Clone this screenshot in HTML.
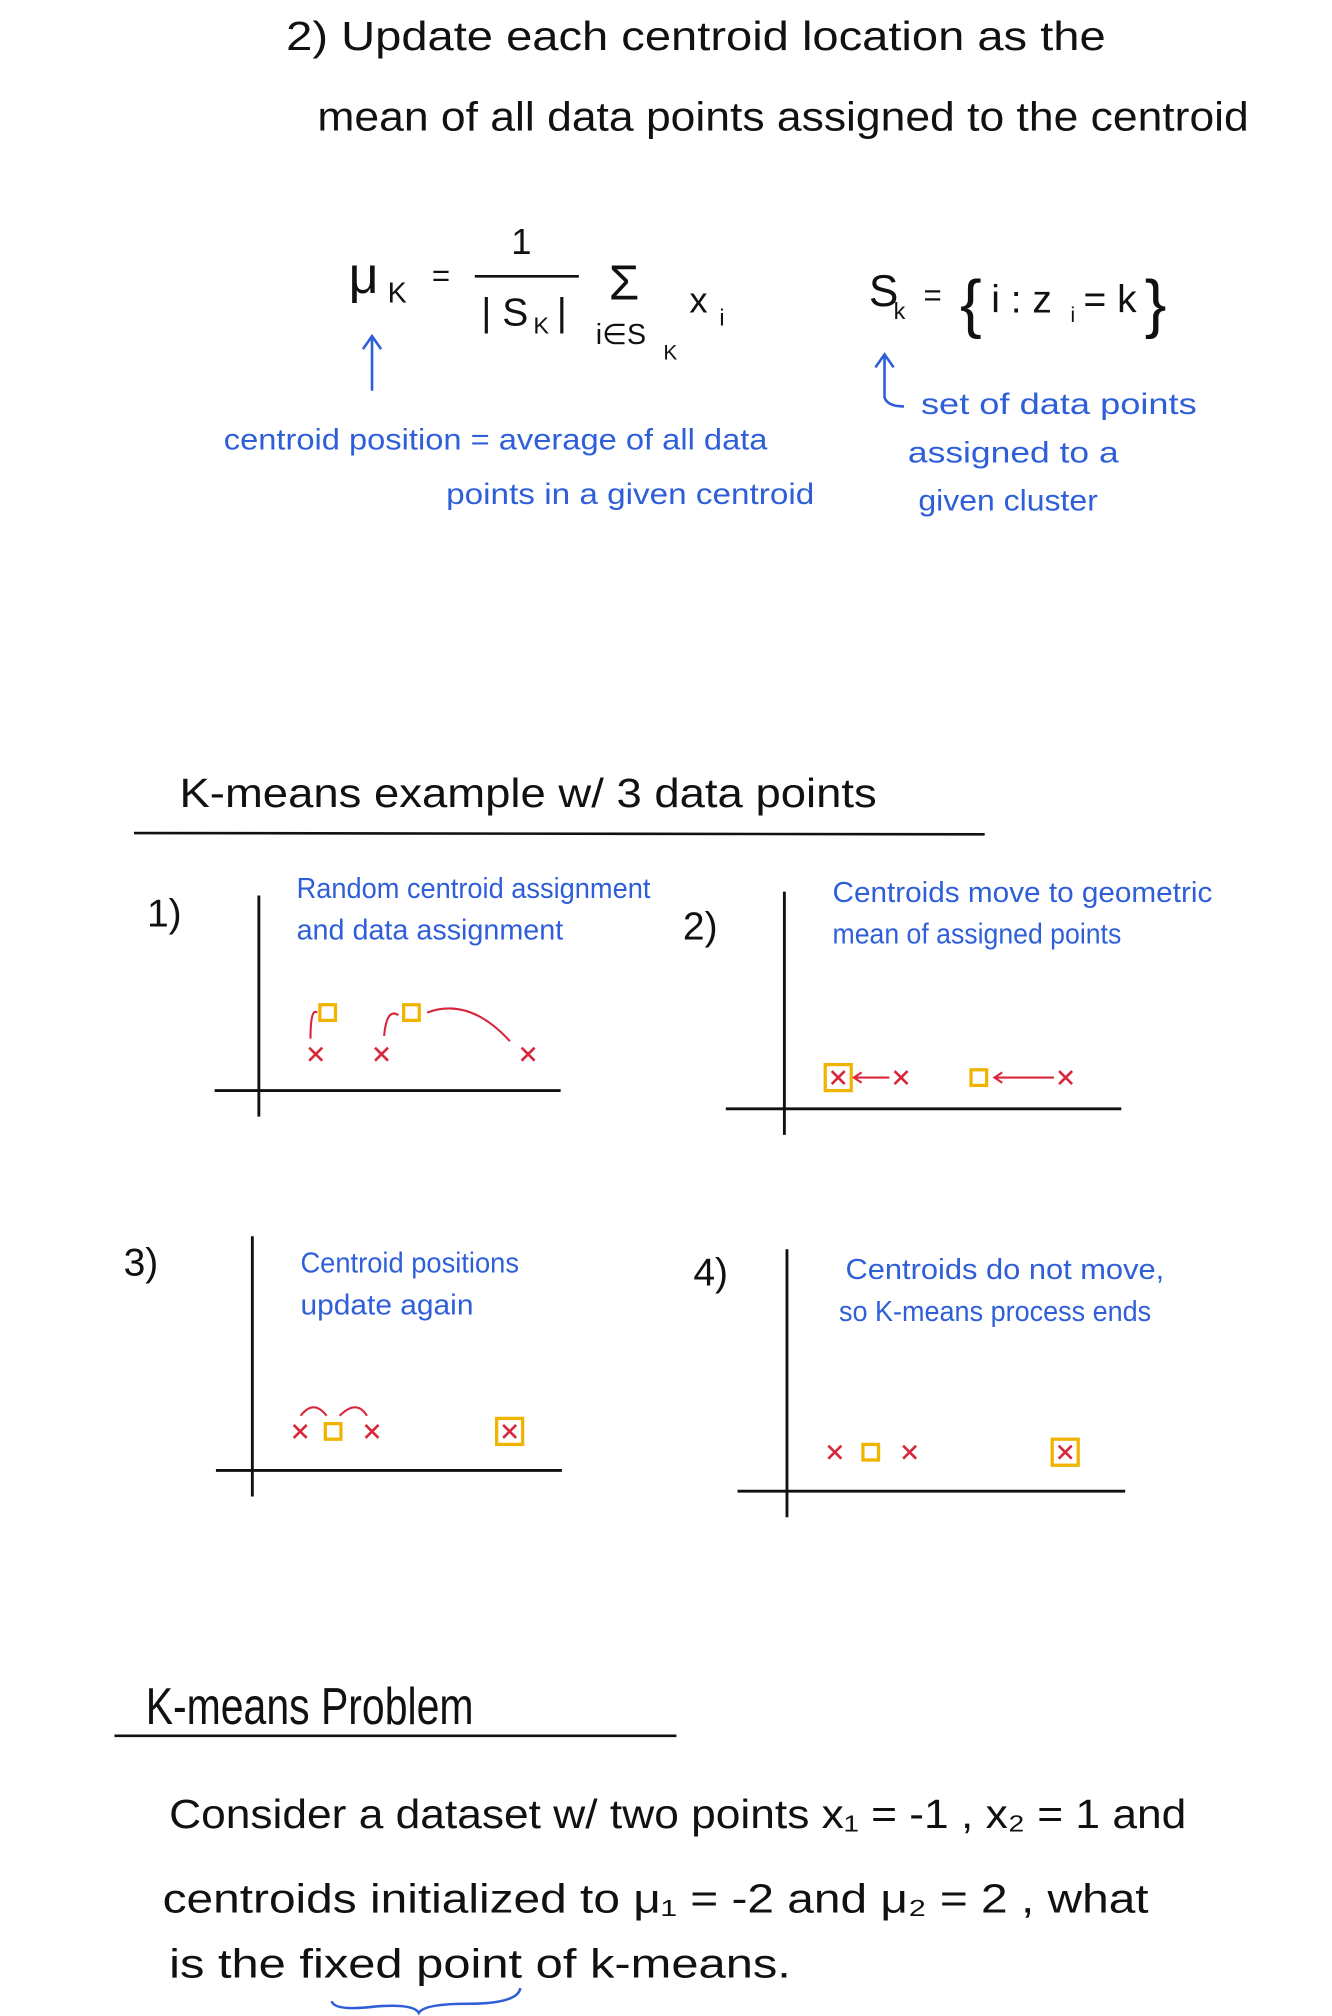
<!DOCTYPE html>
<html><head><meta charset="utf-8"><style>
html,body{margin:0;padding:0;background:#fff;}
svg{display:block;}
text{font-family:"Liberation Sans",sans-serif;}
.k{fill:#111;}
.b{fill:#2f5fd8;}
</style></head><body>
<svg id="page" width="1332" height="2016" viewBox="0 0 1024 1549" xmlns="http://www.w3.org/2000/svg">
<g>
<text class="k" x="220" y="38" font-size="31" textLength="630" lengthAdjust="spacingAndGlyphs">2) Update each centroid location as the</text>
<text class="k" x="244" y="100" font-size="31" textLength="716" lengthAdjust="spacingAndGlyphs">mean of all data points assigned to the centroid</text>
</g>
<g>
<text class="k" x="268" y="225" font-size="40">μ</text>
<text class="k" x="298" y="232" font-size="22">K</text>
<text class="k" x="332" y="220" font-size="24">=</text>
<text class="k" x="393" y="195" font-size="28">1</text>
<line x1="365" y1="212" x2="445" y2="212" stroke="#111" stroke-width="2"/>
<text class="k" x="370" y="250" font-size="30">| S</text>
<text class="k" x="410" y="256" font-size="18">K</text>
<text class="k" x="428" y="250" font-size="30">|</text>
<text class="k" x="468" y="230" font-size="38">Σ</text>
<text class="k" x="458" y="264" font-size="22">i∈S</text>
<text class="k" x="510" y="276" font-size="16">K</text>
<text class="k" x="530" y="240" font-size="28">x</text>
<text class="k" x="553" y="250" font-size="18">i</text>
<text class="k" x="668" y="235" font-size="34">S</text>
<text class="k" x="687" y="245" font-size="18">k</text>
<text class="k" x="710" y="235" font-size="24">=</text>
<text class="k" x="738" y="250" font-size="50">{</text>
<text class="k" x="762" y="240" font-size="30">i : z</text>
<text class="k" x="823" y="247" font-size="16">i</text>
<text class="k" x="833" y="240" font-size="30">= k</text>
<text class="k" x="880" y="250" font-size="50">}</text>
<path d="M286 300 L286 258 M279 268 L286 258 L293 268" stroke="#2f5fd8" stroke-width="2" fill="none"/>
<path d="M680 272 L680 305 Q682 312 695 312 M673 282 L680 272 L687 282" stroke="#2f5fd8" stroke-width="2" fill="none"/>
<text class="b" x="172" y="345" font-size="23" textLength="418" lengthAdjust="spacingAndGlyphs">centroid position = average of all data</text>
<text class="b" x="343" y="387" font-size="23" textLength="283" lengthAdjust="spacingAndGlyphs">points in a given centroid</text>
<text class="b" x="708" y="318" font-size="23" textLength="212" lengthAdjust="spacingAndGlyphs">set of data points</text>
<text class="b" x="698" y="355" font-size="23" textLength="162" lengthAdjust="spacingAndGlyphs">assigned to a</text>
<text class="b" x="706" y="392" font-size="23" textLength="138" lengthAdjust="spacingAndGlyphs">given cluster</text>
</g>
<g>
<text class="k" x="138" y="620" font-size="31" textLength="536" lengthAdjust="spacingAndGlyphs">K-means example w/ 3 data points</text>
<line x1="103" y1="640" x2="757" y2="641" stroke="#111" stroke-width="2"/>
</g>
<g id="panels"></g>
<g>
<text class="k" x="112" y="1325" font-size="40" textLength="252" lengthAdjust="spacingAndGlyphs">K-means Problem</text>
<line x1="88" y1="1334" x2="520" y2="1334" stroke="#111" stroke-width="2"/>
<text class="k" x="130" y="1405" font-size="31" textLength="782" lengthAdjust="spacingAndGlyphs">Consider a dataset w/ two points x₁ = -1 , x₂ = 1 and</text>
<text class="k" x="125" y="1470" font-size="31" textLength="758" lengthAdjust="spacingAndGlyphs">centroids initialized to μ₁ = -2 and μ₂ = 2 , what</text>
<text class="k" x="130" y="1520" font-size="31" textLength="478" lengthAdjust="spacingAndGlyphs">is the fixed point of k-means.</text>
<path d="M255 1538 Q257 1546 290 1542 Q318 1540 322 1547 Q326 1540 360 1540 Q398 1540 400 1528" stroke="#2f5fd8" stroke-width="2" fill="none"/>
</g>
<script>
// data units along x-axis for each panel
const panelLabels = ["1)", "2)", "3)", "4)"];
const p1Points = [1.9, 4.1, 9.0];
const p1Centroids = [2.3, 5.1];
const p2Points = [1.8, 3.9, 9.4];
const p2Centroids = [1.8, 6.5];
const p3Points = [1.6, 4.0, 8.6];
const p3Centroids = [2.7, 8.6];
const p4Points = [1.6, 4.1, 9.3];
const p4Centroids = [2.8, 9.3];
const pointsAll = [p1Points, p2Points, p3Points, p4Points];
const centroidsAll = [p1Centroids, p2Centroids, p3Centroids, p4Centroids];
const notes = [
 ["Random centroid assignment", "and data assignment"],
 ["Centroids move to geometric", "mean of assigned points"],
 ["Centroid positions", "update again"],
 ["Centroids do not move,", "so K-means process ends"]
];
const geo = [
 {ox:199,base:838,top:688,hx1:165,hx2:431,my:810,cy:778,lx:113,ly:712,nx:228,ny:690,nw:[272,205]},
 {ox:603,base:852,top:685,hx1:558,hx2:862,my:828,cy:826,lx:525,ly:722,nx:640,ny:693,nw:[292,222]},
 {ox:194,base:1130,top:950,hx1:166,hx2:432,my:1100,cy:1101,lx:95,ly:980,nx:231,ny:978,nw:[168,133]},
 {ox:605,base:1146,top:960,hx1:567,hx2:865,my:1116,cy:1117,lx:533,ly:988,nx:650,ny:983,nw:[245,240]}
];
const unit = 23;
const NS = "http://www.w3.org/2000/svg";
const root = document.getElementById('panels');
function mk(tag, attrs, parent){const e=document.createElementNS(NS,tag);for(const k in attrs)e.setAttribute(k,attrs[k]);parent.appendChild(e);return e;}
function xScale(i,v){return geo[i].ox + v*unit;}
function cross(g,x,y){
 const c=mk('path',{d:`M${x-5} ${y-5} L${x+5} ${y+5} M${x+5} ${y-5} L${x-5} ${y+5}`,stroke:'#d8263a','stroke-width':2,fill:'none'},g);
 
 
}
function square(g,x,y,s){
 const r=mk('rect',{x:x-s/2,y:y-s/2,width:s,height:s,fill:'none',stroke:'#f0b400','stroke-width':2.5},g);
 
 
}
geo.forEach((G,i)=>{
 const g=mk('g',{},root);
 
 
 mk('line',{x1:G.ox,y1:G.top,x2:G.ox,y2:G.base+20,stroke:'#111','stroke-width':2.2},g);
 mk('line',{x1:G.hx1,y1:G.base,x2:G.hx2,y2:G.base,stroke:'#111','stroke-width':2.2},g);
 const l=mk('text',{x:G.lx,y:G.ly,'font-size':30,class:'k'},g); l.textContent=panelLabels[i];
 
 
 notes[i].forEach((t,j)=>{const n=mk('text',{x:G.nx+(i==3&&j==1?-5:0),y:G.ny+j*32,'font-size':22,class:'b',textLength:G.nw[j],lengthAdjust:'spacingAndGlyphs'},g);n.textContent=t;
  
  });
 const pts=pointsAll[i], cs=centroidsAll[i];
 pts.forEach(v=>cross(g,xScale(i,v),G.my));
 cs.forEach(v=>{
  const cx=xScale(i,v);
  const onPoint=pts.some(p=>Math.abs(p-v)<0.05);
  if(onPoint) square(g,cx,G.my,20);
  else square(g,cx,i==0?G.cy:G.my,12);
 });
 if(i==0){
  const a=xScale(0,p1Points[0]),b=xScale(0,p1Centroids[0]);
  mk('path',{d:`M${a-4} ${G.my-12} Q${a-4} ${G.cy-4} ${b-8} ${G.cy}`,stroke:'#d8263a','stroke-width':1.6,fill:'none'},g);
  const a2=xScale(0,p1Points[1]),b2=xScale(0,p1Centroids[1]);
  mk('path',{d:`M${a2+2} ${G.my-14} Q${a2+4} ${G.cy-4} ${b2-10} ${G.cy+2}`,stroke:'#d8263a','stroke-width':1.6,fill:'none'},g);
  const a3=xScale(0,p1Points[2]);
  mk('path',{d:`M${a3-14} ${G.my-10} Q${a3-45} ${G.cy-12} ${b2+12} ${G.cy}`,stroke:'#d8263a','stroke-width':1.6,fill:'none'},g);
 } else if(i==1){
  [[p2Points[1],p2Centroids[0]],[p2Points[2],p2Centroids[1]]].forEach(([p,c])=>{
   const a=xScale(1,p)-9,b=xScale(1,c)+12;
   mk('path',{d:`M${a} ${G.my} L${b} ${G.my} M${b+6} ${G.my-4} L${b} ${G.my} L${b+6} ${G.my+4}`,stroke:'#d8263a','stroke-width':1.6,fill:'none'},g);
  });
 } else if(i==2){
  const c=xScale(2,p3Centroids[0]);
  mk('path',{d:`M${c-25} ${G.my-12} Q${c-15} ${G.my-25} ${c-5} ${G.my-12}`,stroke:'#d8263a','stroke-width':1.6,fill:'none'},g);
  mk('path',{d:`M${c+5} ${G.my-12} Q${c+18} ${G.my-25} ${c+26} ${G.my-12}`,stroke:'#d8263a','stroke-width':1.6,fill:'none'},g);
 }
});
</script>
</svg>
</body></html>
